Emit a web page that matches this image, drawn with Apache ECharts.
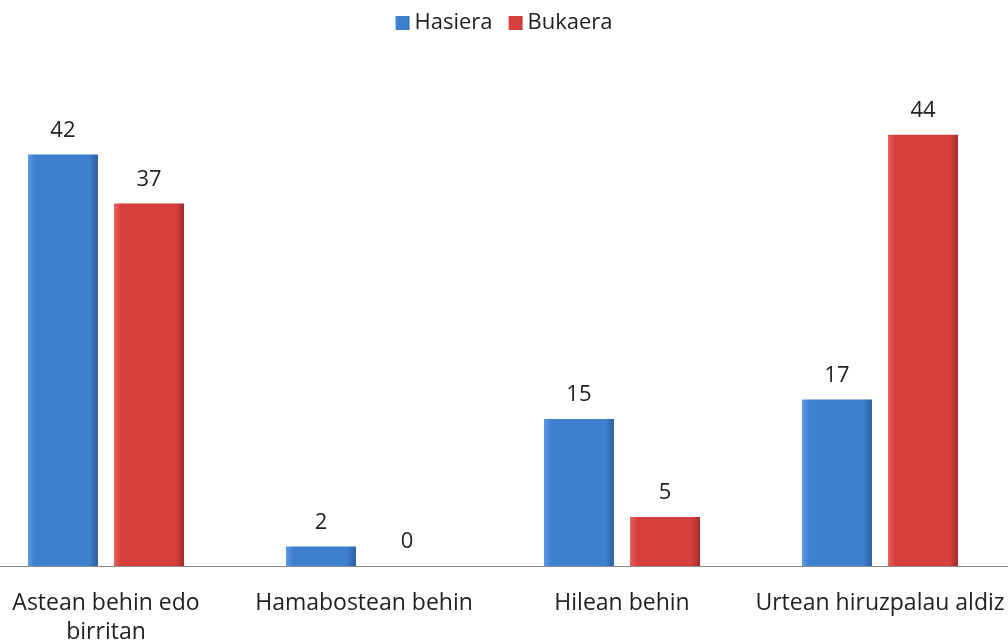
<!DOCTYPE html>
<html>
<head>
<meta charset="utf-8">
<script src="https://cdn.jsdelivr.net/npm/echarts@6/dist/echarts.min.js"></script>
<style>
  html, body { margin: 0; padding: 0; background: #fff; }
  #chart { width: 1008px; height: 642px; }
</style>
</head>
<body>
<div id="chart"></div>
<script>
const categories = ['Astean behin edo\nbirritan', 'Hamabostean behin', 'Hilean behin', 'Urtean hiruzpalau aldiz']
const hasieraValues = [42, 2, 15, 17]
const bukaeraValues = [37, 0, 5, 44]
const seriesNames = ['Hasiera', 'Bukaera']

const fontFamily = '"Open Sans", "Noto Sans", sans-serif'

// soft left-to-right bevel, a bit like the Office bar style
const bevel = (light, mid, dark) => new echarts.graphic.LinearGradient(0, 0, 1, 0, [
  {offset: 0, color: light},
  {offset: 0.1, color: mid},
  {offset: 0.88, color: mid},
  {offset: 1, color: dark},
])

const blueFill = bevel('#5d9be6', '#3e7fcf', '#2c5d9f')
const redFill = bevel('#e8605c', '#d5403d', '#a32c2a')

const chart = echarts.init(document.getElementById('chart'))

const labelStyle = {
  show: true,
  position: 'top',
  distance: 13,
  fontSize: 22,
  color: '#222',
  fontFamily,
}

chart.setOption({
  animation: false,
  legend: {
    top: 7,
    left: 'center',
    itemWidth: 14,
    itemHeight: 14,
    itemGap: 16,
    icon: 'rect',
    textStyle: {fontSize: 22, color: '#222', fontFamily},
    data: seriesNames,
  },
  grid: {
    left: -23,
    right: -1,
    top: 76,
    bottom: 76,
    containLabel: false,
    outerBoundsMode: 'none',
  },
  xAxis: {
    type: 'category',
    data: categories,
    axisTick: {show: false},
    axisLine: {lineStyle: {color: '#8c8c8c', width: 1}},
    axisLabel: {
      interval: 0,
      margin: 23,
      fontSize: 23,
      lineHeight: 29,
      color: '#222',
      fontFamily,
    },
  },
  yAxis: {
    type: 'value',
    min: 0,
    max: 50,
    show: false,
    splitLine: {show: false},
  },
  series: [
    {
      name: seriesNames[0],
      type: 'bar',
      data: hasieraValues,
      barWidth: 70,
      barGap: '23%',
      itemStyle: {color: blueFill},
      label: labelStyle,
    },
    {
      name: seriesNames[1],
      type: 'bar',
      data: bukaeraValues,
      barWidth: 70,
      itemStyle: {color: redFill},
      label: labelStyle,
    },
  ],
})
</script>
</body>
</html>
